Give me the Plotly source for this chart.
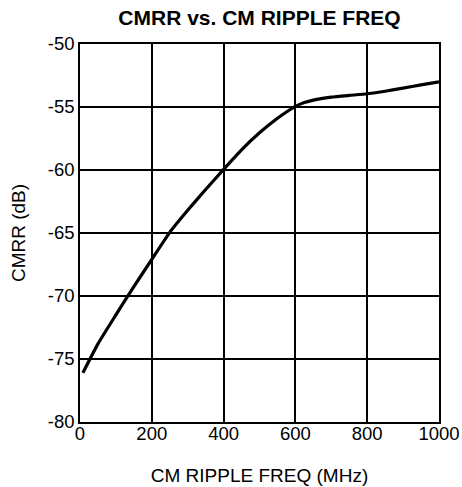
import plotly.graph_objects as go

# CMRR vs common-mode ripple frequency
freq_mhz = [8, 50, 100, 150, 200, 250, 300, 350, 400, 450, 500, 550, 575,
            600, 625, 650, 700, 750, 800, 850, 900, 950, 1000]
cmrr_db = [-76.1, -73.8, -71.5, -69.25, -67.1, -64.95, -63.2, -61.55, -59.95,
           -58.4, -57.05, -55.9, -55.4, -54.95, -54.65, -54.45, -54.22, -54.08,
           -53.95, -53.75, -53.5, -53.25, -53.0]

x_ticks = [0, 200, 400, 600, 800, 1000]
y_ticks = [-80, -75, -70, -65, -60, -55, -50]

FONT = "Liberation Sans, Arial, sans-serif"

fig = go.Figure()
fig.add_trace(go.Scatter(
    x=freq_mhz, y=cmrr_db, mode="lines",
    line=dict(color="black", width=3.2, shape="spline", smoothing=0.5),
    showlegend=False,
))

axis_common = dict(
    showgrid=True, gridcolor="black", gridwidth=1.5,
    showline=True, linecolor="black", linewidth=1.5, mirror=True,
    zeroline=False, ticks="", automargin=False,
    tickfont=dict(family=FONT, size=18.5, color="black"),
)

fig.update_xaxes(
    range=[0, 1000], tickvals=x_ticks, ticktext=[str(v) for v in x_ticks],
    ticklabelstandoff=-6,
    title=dict(text="CM RIPPLE FREQ (MHz)", font=dict(family=FONT, size=19, color="black"),
               standoff=26),
    **axis_common,
)
fig.update_yaxes(
    range=[-80, -50], tickvals=y_ticks, ticktext=[str(v) for v in y_ticks],
    title=dict(text="CMRR (dB)", font=dict(family=FONT, size=19, color="black"),
               standoff=17),
    **axis_common,
)

fig.update_layout(
    width=462, height=487,
    margin=dict(l=80, r=23, t=44, b=65),
    paper_bgcolor="white", plot_bgcolor="white",
    title=dict(text="<b>CMRR vs. CM RIPPLE FREQ</b>", x=0.5, xref="paper",
               y=0.963, yanchor="middle",
               font=dict(family=FONT, size=21, color="black")),
)

fig.write_html("out.html")
